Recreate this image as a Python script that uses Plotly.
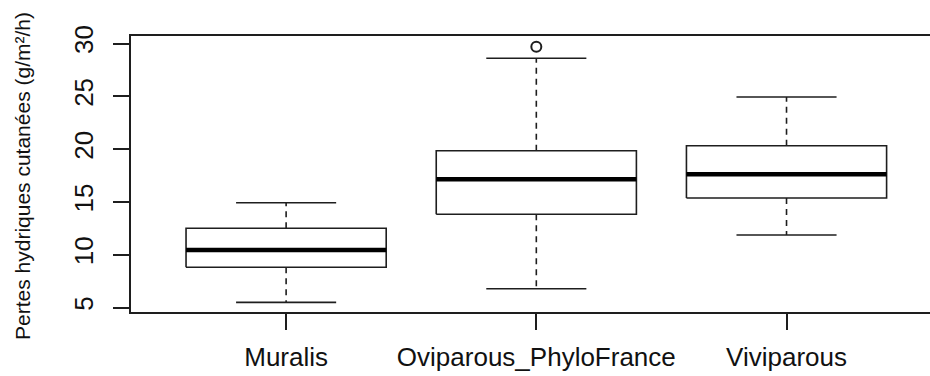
import plotly.graph_objects as go

# ---- data ----
categories = ["Muralis", "Oviparous_PhyloFrance", "Viviparous"]
lower_whisker = [5.49, 6.78, 11.87]
q1 = [8.81, 13.83, 15.37]
median = [10.45, 17.14, 17.61]
q3 = [12.50, 19.85, 20.32]
upper_whisker = [14.92, 28.60, 24.93]
outliers = [[], [29.70], []]
y_ticks = [5, 10, 15, 20, 25, 30]
y_title = "Pertes hydriques cutanées (g/m²/h)"

# ---- style ----
BOX_HALF = 0.4
CAP_HALF = 0.2
LINE_COL = "#1e1e1e"
FONT = "Liberation Sans, Arial, sans-serif"

pos = [i + 1 for i in range(len(categories))]

box_x, box_y = [], []
med_x, med_y = [], []
wh_x, wh_y = [], []
cap_x, cap_y = [], []
out_x, out_y = [], []
for p, lw, a, m, b, uw, outs in zip(pos, lower_whisker, q1, median, q3, upper_whisker, outliers):
    box_x += [p - BOX_HALF, p + BOX_HALF, p + BOX_HALF, p - BOX_HALF, p - BOX_HALF, None]
    box_y += [a, a, b, b, a, None]
    med_x += [p - BOX_HALF, p + BOX_HALF, None]
    med_y += [m, m, None]
    wh_x += [p, p, None, p, p, None]
    wh_y += [b, uw, None, a, lw, None]
    cap_x += [p - CAP_HALF, p + CAP_HALF, None, p - CAP_HALF, p + CAP_HALF, None]
    cap_y += [uw, uw, None, lw, lw, None]
    for o in outs:
        out_x.append(p)
        out_y.append(o)

fig = go.Figure()
fig.add_trace(go.Scatter(x=wh_x, y=wh_y, mode="lines",
                         line=dict(color=LINE_COL, width=1.6, dash="6px,5px"),
                         hoverinfo="skip", showlegend=False))
fig.add_trace(go.Scatter(x=cap_x, y=cap_y, mode="lines",
                         line=dict(color=LINE_COL, width=1.6),
                         hoverinfo="skip", showlegend=False))
fig.add_trace(go.Scatter(x=box_x, y=box_y, mode="lines",
                         line=dict(color=LINE_COL, width=1.6),
                         hoverinfo="skip", showlegend=False))
fig.add_trace(go.Scatter(x=med_x, y=med_y, mode="lines",
                         line=dict(color="#000000", width=4.5),
                         hoverinfo="skip", showlegend=False))
fig.add_trace(go.Scatter(x=out_x, y=out_y, mode="markers",
                         marker=dict(symbol="circle-open", size=10, color=LINE_COL,
                                     line=dict(width=2, color=LINE_COL)),
                         hoverinfo="skip", showlegend=False))

W, H = 930, 376
L, T, B = 131, 36, 64
plot_w = W - L
plot_h = H - T - B
px_per_unit = 250.2
x0 = 0.38
x1 = x0 + plot_w / px_per_unit

fig.update_layout(
    width=W, height=H,
    margin=dict(l=L, r=0, t=T, b=B, pad=0, autoexpand=False),
    paper_bgcolor="white", plot_bgcolor="white",
    font=dict(family=FONT, color="#111111", size=26),
    xaxis=dict(range=[x0, x1], tickvals=pos, ticktext=categories,
               showgrid=False, zeroline=False, automargin=False,
               showline=True, mirror=True, linecolor=LINE_COL, linewidth=1.6,
               ticks="outside", ticklen=16, tickwidth=1.6, tickcolor=LINE_COL,
               ticklabelstandoff=5,
               tickfont=dict(size=26, family=FONT, color="#111111")),
    yaxis=dict(range=[4.574, 30.71], tickvals=y_ticks,
               ticktext=[str(v) for v in y_ticks],
               showgrid=False, zeroline=False, automargin=False,
               showline=True, linecolor=LINE_COL, linewidth=1.6,
               ticks="outside", ticklen=16, tickwidth=1.6, tickcolor=LINE_COL,
               tickangle=-90, ticklabelstandoff=10,
               tickfont=dict(size=26, family=FONT, color="#111111")),
)

fig.add_annotation(text=y_title, textangle=-90, showarrow=False,
                   xref="paper", yref="paper",
                   x=(22 - L) / plot_w, y=(H - B - 176) / plot_h,
                   xanchor="center", yanchor="middle",
                   font=dict(size=21, family=FONT, color="#111111"))

fig.write_html("out.html", config={"displayModeBar": False},
               post_script="document.body.style.margin='0';document.body.style.overflow='hidden';")
